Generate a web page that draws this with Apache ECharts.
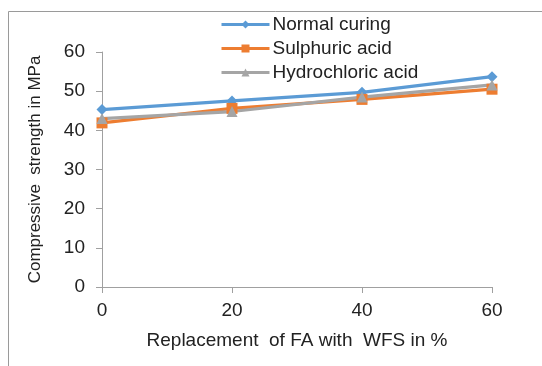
<!DOCTYPE html>
<html>
<head>
<meta charset="utf-8">
<script src="https://cdn.jsdelivr.net/npm/echarts@6/dist/echarts.min.js"></script>
<style>html,body{margin:0;padding:0;background:#fff}#c{width:542px;height:366px}</style>
</head>
<body>
<div id="c"></div>
<script>
const xValues = [0, 20, 40, 60];
const normalCuring = [45.3, 47.5, 49.7, 53.7];
const sulphuricAcid = [41.9, 45.6, 47.9, 50.5];
const hydrochloricAcid = [43.0, 44.8, 48.5, 51.6];
const seriesNames = ['Normal curing', 'Sulphuric acid', 'Hydrochloric acid'];

const chart = echarts.init(document.getElementById('c'), null, {renderer: 'canvas'});
const font = 'Liberation Sans, Arial, sans-serif';
const pair = arr => xValues.map((x, i) => [x, arr[i]]);
const mk = (name, data, color, symbol, size) => ({
  name, type: 'line', data: pair(data), symbol, symbolSize: size,
  lineStyle: {width: 3.2, color}, itemStyle: {color}, showSymbol: true
});
chart.setOption({
  animation: false,
  textStyle: {fontFamily: font},
  graphic: [{
    type: 'rect', shape: {x: 8.5, y: 11.5, width: 600, height: 400},
    style: {fill: 'none', stroke: '#9a9a9a', lineWidth: 1}, silent: true, z: -1
  }],
  grid: {left: 102, right: 50, top: 52, bottom: 79},
  legend: {
    orient: 'vertical', left: 220, top: 15, padding: 0, itemWidth: 48, itemHeight: 10, itemGap: 5,
    lineStyle: {width: 3},
    textStyle: {fontSize: 19, color: '#222', fontFamily: font, padding: [0, 0, 0, -2]},
    data: seriesNames
  },
  xAxis: {
    type: 'value', min: 0, max: 60, interval: 20,
    name: 'Replacement  of FA with  WFS in %', nameLocation: 'middle', nameGap: 44,
    nameTextStyle: {fontSize: 19, color: '#222'},
    axisLine: {lineStyle: {color: '#a0a0a0', width: 1}},
    axisTick: {show: true, length: 6, lineStyle: {color: '#a0a0a0'}},
    axisLabel: {fontSize: 19, color: '#222', margin: 14},
    splitLine: {show: false}
  },
  yAxis: {
    type: 'value', min: 0, max: 60, interval: 10,
    name: 'Compressive  strength in MPa', nameLocation: 'middle', nameGap: 58,
    nameTextStyle: {fontSize: 17, color: '#222'},
    axisLine: {show: true, lineStyle: {color: '#a0a0a0', width: 1}},
    axisTick: {show: true, length: 6, lineStyle: {color: '#a0a0a0'}},
    axisLabel: {fontSize: 19, color: '#222', margin: 17},
    splitLine: {show: false}
  },
  series: [
    mk(seriesNames[0], normalCuring, '#5B9BD5', 'diamond', 11),
    mk(seriesNames[1], sulphuricAcid, '#ED7D31', 'rect', 11),
    mk(seriesNames[2], hydrochloricAcid, '#A5A5A5', 'triangle', 11)
  ]
});
</script>
</body>
</html>
